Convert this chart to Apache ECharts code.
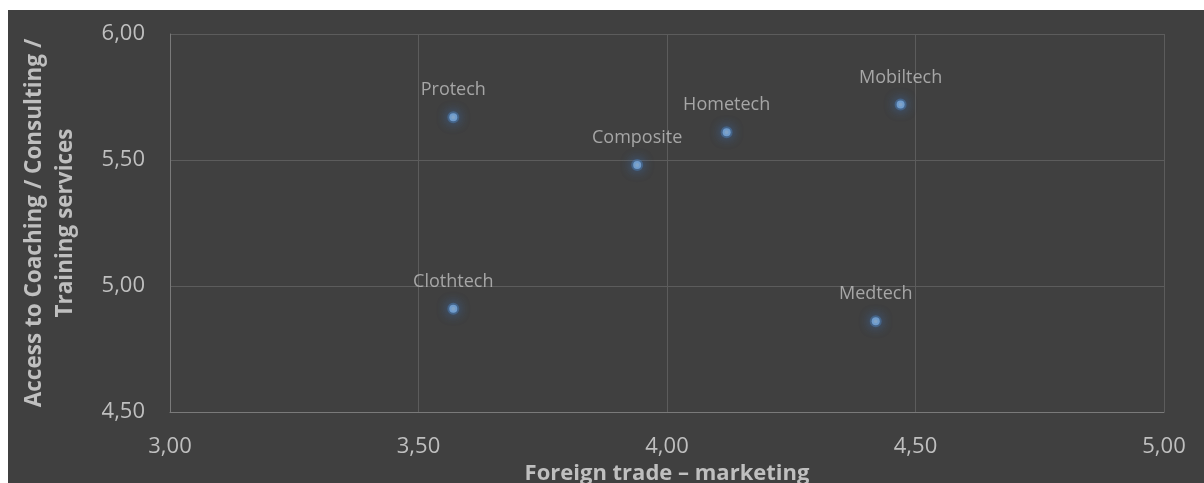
<!DOCTYPE html>
<html>
<head>
<meta charset="utf-8">
<script src="https://cdn.jsdelivr.net/npm/echarts@6/dist/echarts.min.js"></script>
<style>
  html, body { margin: 0; padding: 0; background: #ffffff; width: 1204px; height: 483px; overflow: hidden; }
  #chart { position: absolute; left: 8px; top: 10px; width: 1196px; height: 473px; }
</style>
</head>
<body>
<div id="chart"></div>
<script>
// Cluster positions: foreign trade vs. access to coaching services
const clusters = ['Protech', 'Composite', 'Hometech', 'Mobiltech', 'Clothtech', 'Medtech'];
const foreignTrade = [3.57, 3.94, 4.12, 4.47, 3.57, 4.42];
const coachingAccess = [5.67, 5.48, 5.61, 5.72, 4.91, 4.86];

const xTitle = 'Foreign trade – marketing';
const yTitle = 'Access to Coaching / Consulting /\nTraining services';

const points = clusters.map((name, i) => ({ name: name, value: [foreignTrade[i], coachingAccess[i]] }));

const fmt = v => v.toFixed(2).replace('.', ',');
const font = '"Open Sans", "Noto Sans", sans-serif';

const chart = echarts.init(document.getElementById('chart'));
chart.setOption({
  backgroundColor: '#404040',
  animation: false,
  grid: { left: 162, top: 24, right: 40, bottom: 71, outerBoundsMode: 'none', containLabel: false },
  xAxis: {
    type: 'value', min: 3, max: 5, interval: 0.5,
    name: xTitle, nameLocation: 'middle', nameGap: 39,
    nameTextStyle: { color: '#bfbfbf', fontSize: 22, fontWeight: 'bold', fontFamily: font },
    axisLine: { show: true, lineStyle: { color: '#7a7a7a', width: 1 } },
    axisTick: { show: false },
    axisLabel: { color: '#bfbfbf', fontSize: 22, fontFamily: font, margin: 24, formatter: fmt },
    splitLine: { show: true, lineStyle: { color: '#5c5c5c', width: 1 } }
  },
  yAxis: {
    type: 'value', min: 4.5, max: 6, interval: 0.5,
    name: yTitle, nameLocation: 'middle', nameGap: 89,
    nameTextStyle: { color: '#bfbfbf', fontSize: 22.5, fontWeight: 'bold', fontFamily: font, lineHeight: 31 },
    axisLine: { show: true, lineStyle: { color: '#7a7a7a', width: 1 } },
    axisTick: { show: false },
    axisLabel: { color: '#bfbfbf', fontSize: 22, fontFamily: font, margin: 25, formatter: fmt },
    splitLine: { show: true, lineStyle: { color: '#5c5c5c', width: 1 } }
  },
  series: [{
    type: 'scatter',
    data: points,
    symbol: 'circle',
    symbolSize: 8,
    itemStyle: {
      color: '#9dc3e6',
      borderColor: 'rgba(80, 140, 210, 0.45)',
      borderWidth: 4,
      shadowBlur: 12,
      shadowColor: 'rgba(60, 120, 200, 1)'
    },
    label: {
      show: true,
      position: 'top',
      distance: 12,
      formatter: p => p.name,
      color: '#bfbfbf',
      fontSize: 18,
      fontFamily: font
    }
  }]
});
</script>
</body>
</html>
